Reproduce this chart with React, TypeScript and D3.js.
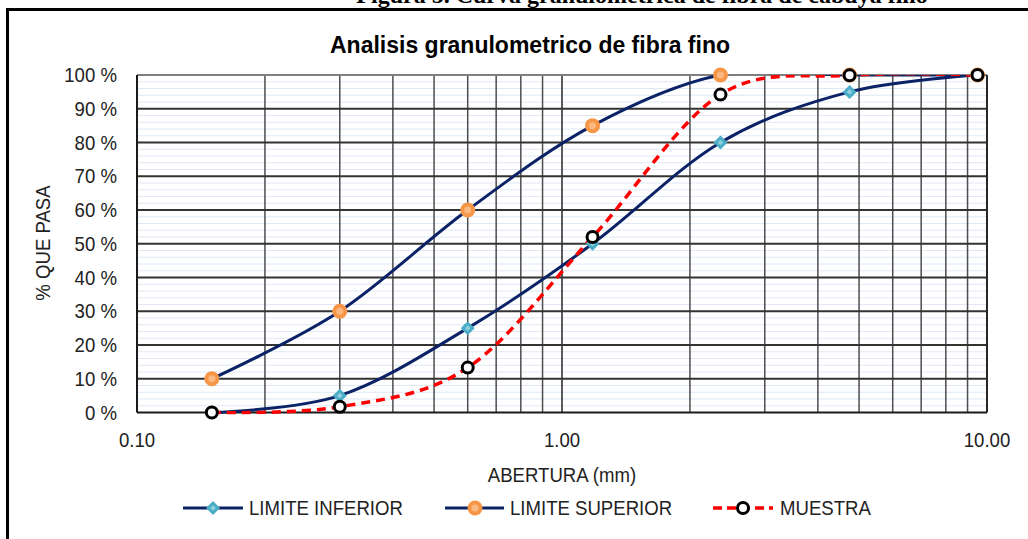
import React from "react";
import * as d3 from "d3";

const sieves = [0.15, 0.3, 0.6, 1.18, 2.36, 4.75, 9.5];
const limiteInferior = [0, 5, 25, 50, 80, 95, 100];
const limiteSuperior = [10, 30, 60, 85, 100, 100, 100];
const muestra = [0, 1.7, 13.3, 52, 94.2, 99.9, 100];
const yTicks = [0, 10, 20, 30, 40, 50, 60, 70, 80, 90, 100];
const xTicks = [0.1, 1, 10];
const minorX = [0.2, 0.3, 0.4, 0.5, 0.6, 0.7, 0.8, 0.9, 2, 3, 4, 5, 6, 7, 8, 9];
const stripes = d3.range(2, 100, 2).filter((v) => v % 10 !== 0);

const W = 1028;
const H = 539;
const FONT = "'Liberation Sans', Arial, sans-serif";

function T(props: { x: number; y: number; anchor?: string; children: any; rotate?: boolean }) {
  const { x, y, anchor = "start", children, rotate } = props;
  const tr = rotate
    ? `translate(${x},${y}) rotate(-90) scale(0.93,1)`
    : `translate(${x},${y}) scale(0.93,1)`;
  return (
    <text transform={tr} dy="0.35em" textAnchor={anchor} fontFamily={FONT} fontSize={20} fill="#222">
      {children}
    </text>
  );
}

export default function App() {
  const x = d3.scaleLog().domain([0.1, 10]).range([137, 987]);
  const y = d3.scaleLinear().domain([0, 100]).range([412.5, 75]);
  const line = d3
    .line<[number, number]>()
    .x((d) => x(d[0]))
    .y((d) => y(d[1]))
    .curve(d3.curveCatmullRom.alpha(0));
  const pts = (vals: number[]) => sieves.map((s, i) => [s, vals[i]] as [number, number]);
  const navy = "#0b2366";

  const diamond = (cx: number, cy: number, r: number, key?: any) => (
    <g key={key}>
      <path d={`M${cx},${cy - r}L${cx + r},${cy}L${cx},${cy + r}L${cx - r},${cy}Z`} fill="#4bacc6" />
      <path d={`M${cx},${cy - r / 2.5}L${cx + r / 2.5},${cy}L${cx},${cy + r / 2.5}L${cx - r / 2.5},${cy}Z`} fill="#8fcfe0" />
    </g>
  );
  const orange = (cx: number, cy: number, key?: any) => (
    <g key={key}>
      <circle cx={cx} cy={cy} r={7.5} fill="#f79646" />
      <circle cx={cx} cy={cy} r={3.5} fill="#fab882" />
    </g>
  );
  const ring = (cx: number, cy: number, key?: any) => (
    <circle key={key} cx={cx} cy={cy} r={5.5} fill="#fff" stroke="#000" strokeWidth={3} />
  );

  return (
    <svg width={W} height={H} style={{ position: "absolute", left: 0, top: 0 }}>
      <defs>
        <clipPath id="plotclip">
          <rect x={137} y={y(100)} width={850} height={y(0) - y(100) + 2} />
        </clipPath>
      </defs>
      <rect x={0} y={0} width={W} height={H} fill="#fff" />
      <text x={642} y={3} textAnchor="middle" fontFamily="'Liberation Serif', 'Times New Roman', serif" fontWeight="bold" fontSize={24}>
        Figura 5. Curva granulométrica de fibra de cabuya fino
      </text>
      {/* frame */}
      <path d={`M7.5,${H + 5}V9.5H${W + 5}`} fill="none" stroke="#000" strokeWidth={3} />

      <text x={530} y={53} textAnchor="middle" fontFamily={FONT} fontWeight="bold" fontSize={23}>
        Analisis granulometrico de fibra fino
      </text>

      {/* stripes */}
      {stripes.map((v) => (
        <line key={"s" + v} x1={137} x2={987} y1={y(v)} y2={y(v)} stroke="#dfe8f4" strokeWidth={1} />
      ))}
      {/* minor vertical grid */}
      {minorX.map((v) => (
        <line key={"v" + v} x1={x(v)} x2={x(v)} y1={y(100)} y2={y(0)} stroke="#4d4d4d" strokeWidth={1.5} />
      ))}
      <line x1={x(1)} x2={x(1)} y1={y(100)} y2={y(0)} stroke="#262626" strokeWidth={1.5} />
      {/* horizontal major grid */}
      {yTicks.filter((v) => v > 0 && v < 100).map((v) => (
        <line key={"h" + v} x1={137} x2={987} y1={y(v)} y2={y(v)} stroke="#333" strokeWidth={2} />
      ))}
      <line x1={137} x2={987} y1={y(100)} y2={y(100)} stroke="#7f7f7f" strokeWidth={2} />
      <line x1={987} x2={987} y1={y(100)} y2={y(0)} stroke="#262626" strokeWidth={2} />
      <line x1={137} x2={137} y1={y(100)} y2={y(0)} stroke="#1a1a1a" strokeWidth={2} />
      <line x1={137} x2={987} y1={y(0)} y2={y(0)} stroke="#1a1a1a" strokeWidth={2} />

      {/* y tick labels */}
      {yTicks.map((v) => (
        <T key={"yt" + v} x={117} y={y(v)} anchor="end">{v} %</T>
      ))}
      {xTicks.map((v) => (
        <T key={"xt" + v} x={x(v)} y={440} anchor="middle">{v.toFixed(2)}</T>
      ))}
      <T x={562} y={475} anchor="middle">ABERTURA (mm)</T>
      <T x={43} y={243} anchor="middle" rotate>% QUE PASA</T>

      {/* lines */}
      <g clipPath="url(#plotclip)">
        <path d={line(pts(limiteInferior)) || ""} fill="none" stroke={navy} strokeWidth={3} />
        <path d={line(pts(limiteSuperior)) || ""} fill="none" stroke={navy} strokeWidth={3} />
        <path d={line(pts(muestra)) || ""} fill="none" stroke="#ff0000" strokeWidth={3.5} strokeDasharray="9,6" />
      </g>
      {sieves.map((s, i) => diamond(x(s), y(limiteInferior[i]), 7, "d" + i))}
      {sieves.map((s, i) => orange(x(s), y(limiteSuperior[i]), "o" + i))}
      {sieves.map((s, i) => ring(x(s), y(muestra[i]), "m" + i))}

      {/* legend */}
      <line x1={183} x2={243} y1={508} y2={508} stroke={navy} strokeWidth={3} />
      {diamond(213, 508, 7)}
      <T x={249} y={508}>LIMITE INFERIOR</T>
      <line x1={445} x2={504} y1={508} y2={508} stroke={navy} strokeWidth={3} />
      {orange(475, 508)}
      <T x={510} y={508}>LIMITE SUPERIOR</T>
      <line x1={713} x2={773} y1={508} y2={508} stroke="#ff0000" strokeWidth={3.5} strokeDasharray="9,5" />
      {ring(743, 508)}
      <T x={780} y={508}>MUESTRA</T>
    </svg>
  );
}
